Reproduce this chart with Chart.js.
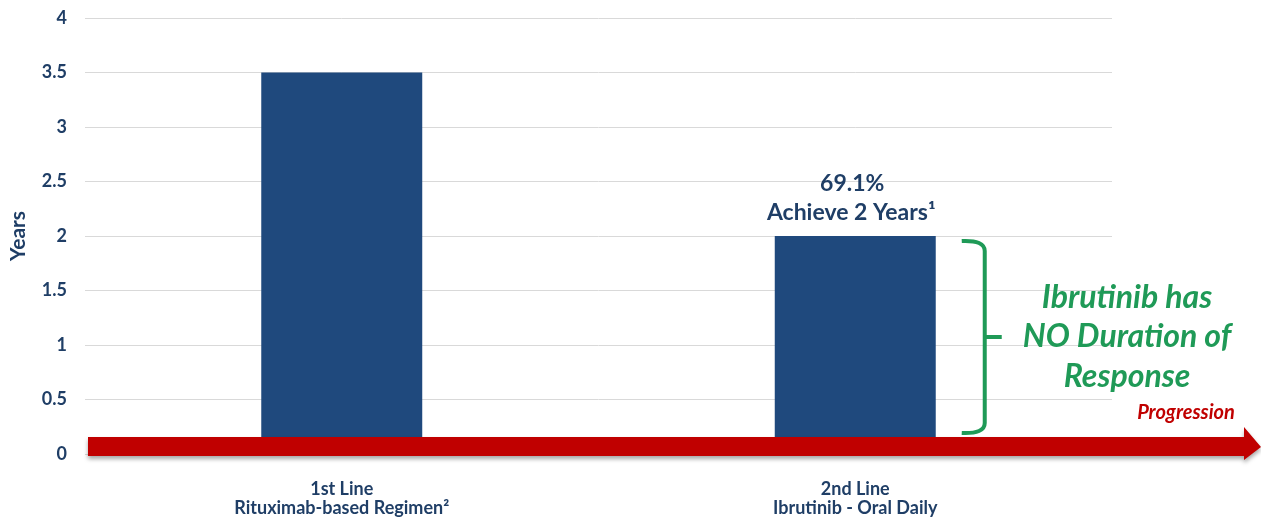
<!DOCTYPE html>
<html>
<head>
<meta charset="utf-8">
<script src="https://cdn.jsdelivr.net/npm/chart.js@4"></script>
<style>
  html, body { margin: 0; padding: 0; background: #fff; }
  #wrap { width: 1261px; height: 519px; position: relative; }
</style>
</head>
<body>
<div id="wrap"><canvas id="durChart"></canvas></div>
<script>
// treatment lines and median duration (years)
var lineLabels = [['1st Line', 'Rituximab-based Regimen\u00b2'], ['2nd Line', 'Ibrutinib - Oral Daily']];
var years = [3.5, 2];
var yTicks = [0, 0.5, 1, 1.5, 2, 2.5, 3, 3.5, 4];
var barNote = ['69.1%', 'Achieve 2 Years\u00b9'];
var sideNote = ['Ibrutinib has', 'NO Duration of', 'Response'];
var arrowLabel = 'Progression';

var FONT = 'Lato, "Open Sans", sans-serif';
var NAVY = '#1f3e66';
var BAR = '#1f497d';
var GREEN = '#1f9a57';
var RED = '#c00000';

// red progression arrow + bracket and notes on the 2nd bar
var overlay = {
  id: 'overlay',
  afterDatasetsDraw: function(chart) {
    var ctx = chart.ctx;
    var y = chart.scales.y;
    var area = chart.chartArea;
    var W = chart.width;
    var y0 = y.getPixelForValue(0);

    // arrow
    ctx.save();
    ctx.shadowColor = 'rgba(0,0,0,0.35)';
    ctx.shadowBlur = 4;
    ctx.shadowOffsetY = 3;
    ctx.fillStyle = RED;
    ctx.beginPath();
    ctx.moveTo(area.left + 3, y0 - 17);
    ctx.lineTo(W - 17, y0 - 17);
    ctx.lineTo(W - 17, y0 - 27);
    ctx.lineTo(W, y0 - 7);
    ctx.lineTo(W - 17, y0 + 6);
    ctx.lineTo(W - 17, y0 + 2);
    ctx.lineTo(area.left + 3, y0 + 2);
    ctx.closePath();
    ctx.fill();
    ctx.restore();

    var bar = chart.getDatasetMeta(0).data[1];
    var cx = bar.x;

    ctx.save();
    ctx.textAlign = 'center';
    ctx.textBaseline = 'middle';
    ctx.fillStyle = NAVY;
    ctx.font = 'bold 23px ' + FONT;
    ctx.fillText(barNote[0], cx - 3, bar.y - 52);
    ctx.fillText(barNote[1], cx - 4, bar.y - 23);

    // bracket
    var bx = bar.x + bar.width / 2 + 49;
    var top = bar.y + 5;
    var bot = y0 - 21;
    var mid = (top + bot) / 2;
    ctx.strokeStyle = GREEN;
    ctx.lineWidth = 4;
    ctx.lineJoin = 'round';
    ctx.beginPath();
    ctx.moveTo(bx - 23, top);
    ctx.quadraticCurveTo(bx, top - 1, bx, top + 10);
    ctx.lineTo(bx, bot - 10);
    ctx.quadraticCurveTo(bx, bot + 1, bx - 23, bot);
    ctx.stroke();
    ctx.beginPath();
    ctx.moveTo(bx, mid);
    ctx.lineTo(bx + 17, mid);
    ctx.stroke();

    ctx.fillStyle = GREEN;
    ctx.font = 'italic bold 32px ' + FONT;
    var tx = 1127;
    ctx.fillText(sideNote[0], tx, mid - 39);
    ctx.fillText(sideNote[1], tx, mid);
    ctx.fillText(sideNote[2], tx, mid + 40);

    ctx.fillStyle = RED;
    ctx.font = 'italic bold 20px ' + FONT;
    ctx.fillText(arrowLabel, 1186, y0 - 41);
    ctx.restore();
  }
};

new Chart(document.getElementById('durChart'), {
  type: 'bar',
  data: {
    labels: lineLabels,
    datasets: [{
      data: years,
      backgroundColor: BAR,
      categoryPercentage: 0.627,
      barPercentage: 0.5
    }]
  },
  options: {
    responsive: true,
    maintainAspectRatio: false,
    animation: false,
    layout: { padding: { top: 18, right: 149, bottom: 0, left: 0 } },
    plugins: { legend: { display: false }, tooltip: { enabled: false } },
    scales: {
      x: {
        grid: { display: false, drawTicks: false },
        border: { display: false },
        ticks: {
          color: NAVY,
          font: { family: FONT, size: 18, weight: 'bold', lineHeight: 1.08 },
          padding: 25
        },
        afterFit: function(scale) {
          scale.height = 65;
          scale.paddingLeft = 0;
          scale.paddingRight = 0;
        }
      },
      y: {
        min: 0,
        max: 4,
        afterBuildTicks: function(scale) {
          scale.ticks = yTicks.map(function(v) { return { value: v }; });
        },
        grid: { color: '#d9d9d9', lineWidth: 1, drawTicks: false },
        border: { display: false },
        ticks: {
          color: NAVY,
          font: { family: FONT, size: 18, weight: 'bold' },
          padding: 18,
          callback: function(v) { return String(v); }
        },
        title: {
          display: true,
          text: 'Years',
          color: NAVY,
          font: { family: FONT, size: 21, weight: 'bold' },
          padding: { top: 6, bottom: 0 }
        },
        afterFit: function(scale) {
          scale.width = 85;
          scale.paddingTop = 0;
          scale.paddingBottom = 0;
        }
      }
    }
  },
  plugins: [overlay]
});
</script>
</body>
</html>
